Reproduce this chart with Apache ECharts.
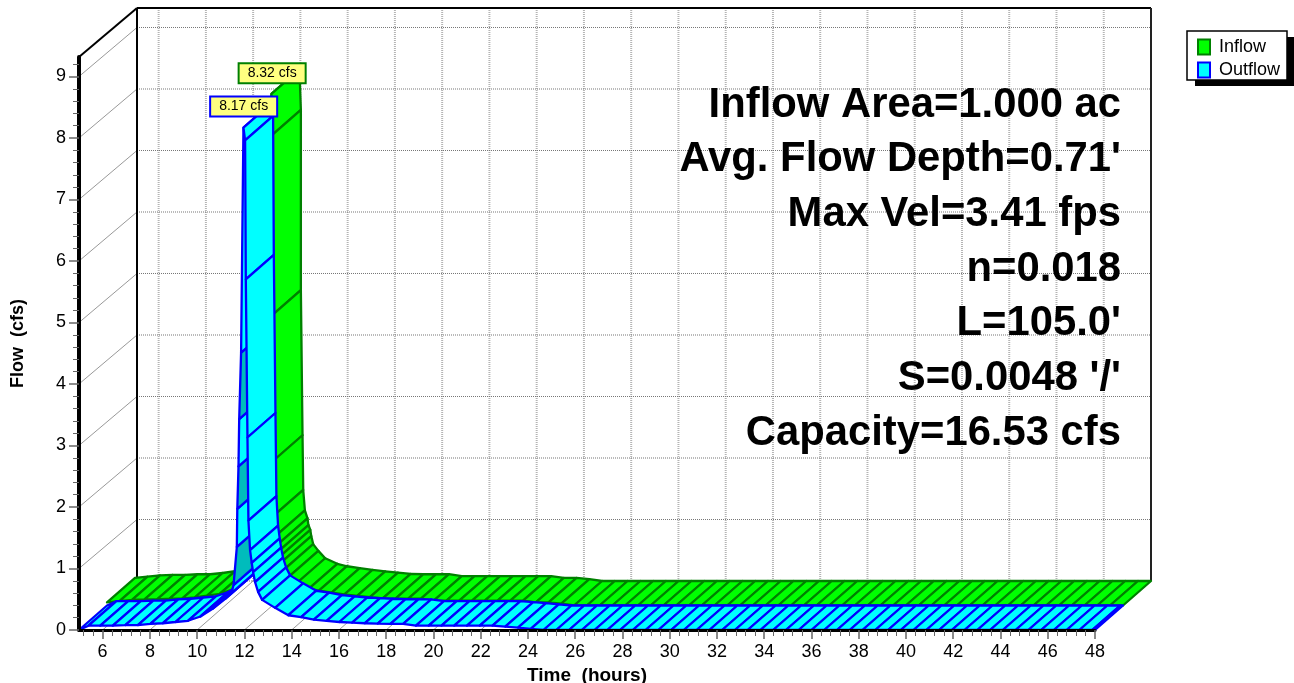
<!DOCTYPE html>
<html><head><meta charset="utf-8">
<style>html,body{margin:0;padding:0;background:#fff}#c{width:1294px;height:683px}</style>
<script src="https://cdn.jsdelivr.net/npm/echarts@6/dist/echarts.min.js"></script></head>
<body><div id="c"></div>
<script>
const hourMajor = [6,8,10,12,14,16,18,20,22,24,26,28,30,32,34,36,38,40,42,44,46,48];
const hourMinor = [5.2,5.6,6.4,6.8,7.2,7.6,8.4,8.8,9.2,9.6,10.4,10.8,11.2,11.6,12.4,12.8,13.2,13.6,14.4,14.8,15.2,15.6,16.4,16.8,17.2,17.6,18.4,18.8,19.2,19.6,20.4,20.8,21.2,21.6,22.4,22.8,23.2,23.6,24.4,24.8,25.2,25.6,26.4,26.8,27.2,27.6,28.4,28.8,29.2,29.6,30.4,30.8,31.2,31.6,32.4,32.8,33.2,33.6,34.4,34.8,35.2,35.6,36.4,36.8,37.2,37.6,38.4,38.8,39.2,39.6,40.4,40.8,41.2,41.6,42.4,42.8,43.2,43.6,44.4,44.8,45.2,45.6,46.4,46.8,47.2,47.6];
const cfsMajor = [0,1,2,3,4,5,6,7,8,9];
const cfsMinor = [0.2,0.4,0.6,0.8,1.2,1.4,1.6,1.8,2.2,2.4,2.6,2.8,3.2,3.4,3.6,3.8,4.2,4.4,4.6,4.8,5.2,5.4,5.6,5.8,6.2,6.4,6.6,6.8,7.2,7.4,7.6,7.8,8.2,8.4,8.6,8.8,9.2];

const outflowHours = [5,5.4,5.9,6.43,6.96,7.49,8.02,8.55,9.08,9.61,10.14,10.67,11.2,11.45,11.54,11.68,11.7,11.75,11.78,11.86,11.96,12.03,12.06,12.13,12.17,12.24,12.31,12.37,12.45,12.58,12.75,13.3,13.86,14.4,14.94,15.48,16.02,16.56,17.1,17.64,18.18,18.72,19.26,19.8,20.34,20.88,21.42,21.96,22.5,23.04,23.58,24.12,24.66,25.2,25.74,26.28,26.82,27.36,27.9,28.44,28.98,29.52,30.06,30.6,31.14,31.68,32.22,32.76,33.3,33.84,34.38,34.92,35.46,36,36.54,37.08,37.62,38.16,38.7,39.24,39.78,40.32,40.86,41.4,41.94,42.48,43.02,43.56,44.1,44.64,45.18,45.72,46.26,46.8,47.34,47.88,48];
const outflowCfs = [0,0.07,0.07,0.07,0.08,0.08,0.1,0.11,0.13,0.15,0.22,0.35,0.51,0.6,0.73,1.35,1.97,2.66,3.43,4.51,8.17,7.96,5.7,3.13,1.78,1.3,1.09,0.94,0.78,0.62,0.49,0.36,0.24,0.21,0.17,0.15,0.13,0.12,0.11,0.105,0.1,0.1,0.07,0.07,0.07,0.07,0.07,0.07,0.07,0.055,0.04,0.02,0,0,0,0,0,0,0,0,0,0,0,0,0,0,0,0,0,0,0,0,0,0,0,0,0,0,0,0,0,0,0,0,0,0,0,0,0,0,0,0,0,0,0,0,0];
const outflowShadedStarts = [11.54,11.7,11.78];

const inflowHours = [5,5.53,6.06,6.59,7.12,7.65,8.18,8.71,9.24,9.77,10.3,10.83,11.36,11.6,11.75,11.96,12.02,12.02,12.09,12.12,12.19,12.3,12.34,12.42,12.46,12.54,12.76,13.05,13.56,13.97,14.51,15.05,15.59,16.13,16.67,17.21,17.75,18.29,18.83,19.37,19.91,20.45,20.99,21.53,22.07,22.61,23.15,23.69,24.23,24.77,25.31,25.85,26.39,26.93,27.47,28.01,28.55,29.09,29.63,30.17,30.71,31.25,31.79,32.33,32.87,33.41,33.95,34.49,35.03,35.57,36.11,36.65,37.19,37.73,38.27,38.81,39.35,39.89,40.43,40.97,41.51,42.05,42.59,43.13,43.67,44.21,44.75,45.29,45.83,46.37,46.91,47.45,48];
const inflowCfs = [0.05,0.07,0.09,0.1,0.1,0.11,0.11,0.13,0.16,0.19,0.26,0.4,0.62,1.2,3.5,8.32,7.66,4.73,2.37,1.48,1.15,1.02,0.91,0.83,0.73,0.6,0.49,0.37,0.28,0.24,0.21,0.18,0.155,0.135,0.115,0.11,0.11,0.11,0.08,0.08,0.08,0.08,0.08,0.08,0.08,0.08,0.05,0.05,0.03,0,0,0,0,0,0,0,0,0,0,0,0,0,0,0,0,0,0,0,0,0,0,0,0,0,0,0,0,0,0,0,0,0,0,0,0,0,0,0,0,0,0,0,0];

const peaks = [{name:'Inflow', hour:11.96, cfs:8.32}, {name:'Outflow', hour:11.96, cfs:8.17}];
const statLines = ["Inflow Area=1.000 ac","Avg. Flow Depth=0.71'","Max Vel=3.41 fps","n=0.018","L=105.0'","S=0.0048 '/'","Capacity=16.53 cfs"];

const HOUR_MIN = 5, HOUR_MAX = 48, CFS_TOP = 9.317;
const DX = 56, DY = 49, WALL_DX = 58;
const FONT = '"Liberation Sans", Arial, sans-serif';
const GREEN='#00ff00', GREEN_D='#008000', CYAN='#00ffff', BLUE='#0000ff', TEAL='#00bcbc';

function segments(h, v, shaded){
  const out=[];
  for(let i=0;i<h.length-1;i++) out.push([h[i],v[i],h[i+1],v[i+1],shaded&&shaded.includes(h[i])?1:0]);
  return out;
}
function ribbon(depth0, depth1, fill, stroke){
  return function(p, api){
    const a=api.coord([api.value(0),api.value(1)]), b=api.coord([api.value(2),api.value(3)]);
    const off=(pt,d)=>[pt[0]+DX*d, pt[1]-DY*d];
    return {type:'polygon', shape:{points:[off(a,depth0),off(b,depth0),off(b,depth1),off(a,depth1)]},
      style:{fill: api.value(4)?TEAL:fill, stroke, lineWidth:2.3, lineJoin:'round'}};
  };
}
const line=(a,b,stroke,lineWidth,lineDash)=>({type:'line',shape:{x1:a[0],y1:a[1],x2:b[0],y2:b[1]},style:{stroke,lineWidth,lineDash:lineDash||null}});

const chart=echarts.init(document.getElementById('c'),null,{renderer:'canvas'});
const hourAxis=(extra)=>Object.assign({type:'value',min:HOUR_MIN,max:HOUR_MAX,position:'bottom',splitLine:{show:false},axisLine:{onZero:false}},extra);
const cfsAxis=(extra)=>Object.assign({type:'value',min:0,max:CFS_TOP,position:'left',splitLine:{show:false},axisLine:{onZero:false}},extra);

chart.setOption({
  animation:false,
  backgroundColor:'#fff',
  grid:{left:79,top:57,width:1016,height:573,containLabel:false,outerBoundsMode:'none'},
  xAxis:[
    hourAxis({z:5,name:'Time  (hours)',nameLocation:'middle',nameGap:34,
      nameTextStyle:{fontFamily:FONT,fontWeight:'bold',fontSize:19,color:'#000'},
      axisLine:{show:true,onZero:false,lineStyle:{color:'#000',width:3}},
      axisTick:{show:true,length:9,customValues:hourMajor,lineStyle:{color:'#666',width:1.5}},
      axisLabel:{show:true,margin:13,customValues:hourMajor,fontFamily:FONT,fontSize:18,color:'#000'}}),
    hourAxis({z:5,axisLine:{show:false,onZero:false},
      axisTick:{show:true,length:6,customValues:hourMinor,lineStyle:{color:'#666',width:1}},
      axisLabel:{show:false}})
  ],
  yAxis:[
    cfsAxis({z:5,name:'Flow  (cfs)',nameLocation:'middle',nameGap:52,nameRotate:90,
      nameTextStyle:{fontFamily:FONT,fontWeight:'bold',fontSize:18,color:'#000'},
      axisLine:{show:true,onZero:false,lineStyle:{color:'#000',width:4}},
      axisTick:{show:true,length:10,customValues:cfsMajor,lineStyle:{color:'#666',width:1.5}},
      axisLabel:{show:true,margin:13,padding:[3,0,0,0],customValues:cfsMajor,fontFamily:FONT,fontSize:18,color:'#000'}}),
    cfsAxis({z:5,axisLine:{show:false,onZero:false},
      axisTick:{show:true,length:6,customValues:cfsMinor,lineStyle:{color:'#666',width:1}},
      axisLabel:{show:false}})
  ],
  legend:{
    left:1197,top:38,orient:'vertical',padding:0,itemGap:5,itemWidth:12,itemHeight:15,icon:'rect',z:10,
    textStyle:{fontFamily:FONT,fontSize:18,color:'#000',padding:[0,0,0,4]},
    data:[{name:'Inflow',itemStyle:{color:GREEN,borderColor:GREEN_D,borderWidth:2}},
          {name:'Outflow',itemStyle:{color:CYAN,borderColor:BLUE,borderWidth:2}}],
    selectedMode:false
  },
  graphic:{elements:[
    {type:'rect',z:1,silent:true,shape:{x:1195,y:37,width:99,height:49},style:{fill:'#000'}},
    {type:'rect',z:2,silent:true,shape:{x:1187,y:31,width:100,height:49},style:{fill:'#fff',stroke:'#000',lineWidth:1.5}}
  ].concat(statLines.map((t,i)=>({type:'text',z:20,silent:true,x:1121,y:105+i*54.7,
    style:{text:t,align:'right',verticalAlign:'middle',fontFamily:FONT,fontWeight:'bold',fontSize:41.8,fill:'#000'}})))},
  series:[
    {type:'custom',name:'hourGrid',silent:true,z:1,encode:{x:0},data:hourMajor.map(h=>[h]),
      renderItem:(p,api)=>{
        const h=api.value(0), a=api.coord([h,0]), top=api.coord([h,CFS_TOP]);
        const b=[a[0]+DX,a[1]-DY], t=[top[0]+DX,top[1]-DY];
        return {type:'group',children:[line(b,t,'#b4b4b4',2,[1,1]),line(a,b,'#999',1)]};
      }},
    {type:'custom',name:'cfsGrid',silent:true,z:1,yAxisIndex:0,data:cfsMajor.map(v=>[HOUR_MIN,v]),
      renderItem:(p,api)=>{
        const v=api.value(1), a=api.coord([HOUR_MIN,v]), r=api.coord([HOUR_MAX,v]);
        const l=[a[0]+WALL_DX,a[1]-DY], e=[r[0]+DX,r[1]-DY];
        return {type:'group',children:[line(l,e,'#777',1,[1,1]),line(a,l,'#999',1)]};
      },encode:{x:0,y:1}},
    {type:'custom',name:'wall',silent:true,z:1,data:[[HOUR_MIN,0]],encode:{x:0,y:1},
      renderItem:(p,api)=>{
        const o=api.coord([HOUR_MIN,0]), t=api.coord([HOUR_MIN,CFS_TOP]), e=api.coord([HOUR_MAX,0]), et=api.coord([HOUR_MAX,CFS_TOP]);
        const bo=[o[0]+WALL_DX,o[1]-DY], bt=[t[0]+WALL_DX,t[1]-DY], be=[e[0]+DX,e[1]-DY], bet=[et[0]+DX,et[1]-DY];
        return {type:'group',children:[line(bo,bt,'#000',2),line(bt,bet,'#000',2),line(t,bt,'#000',2),line(be,bet,'#222',2),line(e,be,'#888',1)]};
      }},
    {type:'custom',name:'Inflow',silent:true,z:2,encode:{x:[0,2],y:[1,3]},data:segments(inflowHours,inflowCfs),
      itemStyle:{color:GREEN},renderItem:ribbon(0.5,1,GREEN,GREEN_D)},
    {type:'custom',name:'Outflow',silent:true,z:3,encode:{x:[0,2],y:[1,3]},data:segments(outflowHours,outflowCfs,outflowShadedStarts),
      itemStyle:{color:CYAN},renderItem:ribbon(0,0.5,CYAN,BLUE)},
    {type:'custom',name:'peakLabels',silent:true,z:6,encode:{x:0,y:1},
      data:peaks.map((d,i)=>[d.hour,d.cfs,i]),
      renderItem:(p,api)=>{
        const i=api.value(2), c=api.coord([api.value(0),api.value(1)]);
        const x=c[0]+(i===0?28.7:0.2), y=c[1]+(i===0?-45:-21);
        return {type:'text',x,y,style:{text:api.value(1).toFixed(2)+' cfs',align:'center',verticalAlign:'middle',
          fontFamily:FONT,fontSize:14,fill:'#000',backgroundColor:'#ffff80',borderColor:i===0?GREEN_D:BLUE,borderWidth:2,padding:[2,8,2,8]}};
      }}
  ]
});
</script></body></html>
